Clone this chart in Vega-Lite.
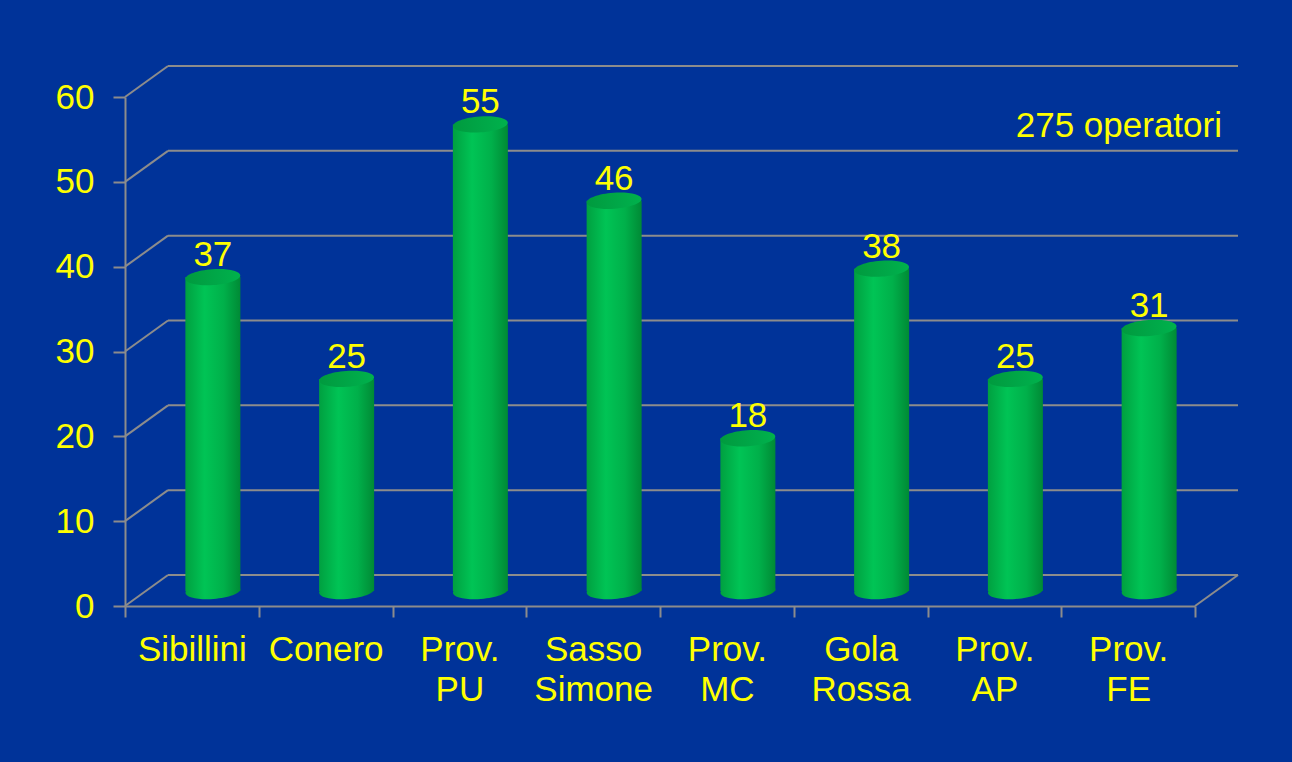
{
  "$schema": "https://vega.github.io/schema/vega-lite/v6.json",
  "autosize": "none",
  "width": 1070,
  "height": 509,
  "padding": {"left": 125, "top": 97, "right": 97, "bottom": 156},
  "background": "#003399",
  "config": {
    "view": {"stroke": null},
    "font": "Liberation Sans",
    "axis": {
      "labelFont": "Liberation Sans",
      "labelFontSize": 35,
      "labelColor": "#ffff00",
      "domainColor": "#8c8c8c",
      "domainWidth": 2,
      "tickColor": "#8c8c8c",
      "tickWidth": 2,
      "grid": false
    }
  },
  "datasets": {
    "parks": [
      {"cat": "Sibillini", "v": 37},
      {"cat": "Conero", "v": 25},
      {"cat": "Prov. PU", "v": 55},
      {"cat": "Sasso Simone", "v": 46},
      {"cat": "Prov. MC", "v": 18},
      {"cat": "Gola Rossa", "v": 38},
      {"cat": "Prov. AP", "v": 25},
      {"cat": "Prov. FE", "v": 31}
    ],
    "grid": [{"g": 0}, {"g": 10}, {"g": 20}, {"g": 30}, {"g": 40}, {"g": 50}, {"g": 60}],
    "note": [{"t": "275 operatori"}]
  },
  "layer": [
    {
      "data": {"name": "grid"},
      "mark": {"type": "rule", "color": "#8c8c8c", "strokeWidth": 2, "xOffset": 43, "x2Offset": 109.875, "yOffset": -31, "y2Offset": -31},
      "encoding": {
        "x": {"datum": "Sibillini", "bandPosition": 0, "type": "nominal",
              "scale": {"domain": ["Sibillini", "Conero", "Prov. PU", "Sasso Simone", "Prov. MC", "Gola Rossa", "Prov. AP", "Prov. FE"], "paddingInner": 0, "paddingOuter": 0},
              "title": null,
              "axis": {"title": null, "labelExpr": "split(datum.label, ' ')", "labelAngle": 0, "labelAlign": "center", "labelLineHeight": 40, "tickBand": "extent", "tickSize": 11, "labelPadding": 15}},
        "x2": {"datum": "Prov. FE"},
        "y": {"field": "g", "type": "quantitative", "scale": {"domain": [0, 60], "nice": false}, "title": null,
              "axis": {"title": null, "values": [0, 10, 20, 30, 40, 50, 60], "tickSize": 12, "labelPadding": 19}},
        "y2": {"field": "g"}
      }
    },
    {
      "data": {"name": "grid"},
      "mark": {"type": "rule", "color": "#8c8c8c", "strokeWidth": 2, "x2Offset": -23.875, "y2Offset": -31},
      "encoding": {
        "x": {"datum": "Sibillini", "bandPosition": 0, "type": "nominal", "title": null},
        "x2": {"datum": "Sibillini"},
        "y": {"field": "g", "type": "quantitative", "title": null},
        "y2": {"field": "g"}
      }
    },
    {
      "data": {"name": "grid"},
      "transform": [{"filter": "datum.g == 0"}],
      "mark": {"type": "rule", "color": "#8c8c8c", "strokeWidth": 2, "x2Offset": 109.875, "y2Offset": -31},
      "encoding": {
        "x": {"datum": "Prov. FE", "bandPosition": 1, "type": "nominal", "title": null},
        "x2": {"datum": "Prov. FE"},
        "y": {"field": "g", "type": "quantitative", "title": null},
        "y2": {"field": "g"}
      }
    },
    {
      "data": {"name": "parks"},
      "mark": {"type": "point", "filled": true, "strokeWidth": 0, "opacity": 1, "size": 3025, "angle": -4,
               "shape": "M-1,0A1,0.29,0,1,0,1,0A1,0.29,0,1,0,-1,0Z", "xOffset": 21, "yOffset": -15,
               "color": {"gradient": "linear", "x1": 0, "x2": 1, "y1": 0, "y2": 0,
                         "stops": [{"offset": 0, "color": "#00a040"}, {"offset": 0.35, "color": "#00c455"}, {"offset": 0.7, "color": "#00b04a"}, {"offset": 1, "color": "#008a35"}]}},
      "encoding": {
        "x": {"field": "cat", "type": "nominal", "sort": null, "title": null},
        "y": {"datum": 0, "type": "quantitative", "title": null}
      }
    },
    {
      "data": {"name": "parks"},
      "mark": {"type": "bar", "width": 55, "xOffset": 21, "yOffset": -15, "y2Offset": -15,
               "color": {"gradient": "linear", "x1": 0, "x2": 1, "y1": 0, "y2": 0,
                         "stops": [{"offset": 0, "color": "#00a040"}, {"offset": 0.35, "color": "#00c455"}, {"offset": 0.7, "color": "#00b04a"}, {"offset": 1, "color": "#008a35"}]}},
      "encoding": {
        "x": {"field": "cat", "type": "nominal", "sort": null, "title": null},
        "y": {"field": "v", "type": "quantitative", "title": null}
      }
    },
    {
      "data": {"name": "parks"},
      "mark": {"type": "point", "filled": true, "strokeWidth": 0, "opacity": 1, "size": 3025, "angle": -4,
               "shape": "M-1,0A1,0.29,0,1,0,1,0A1,0.29,0,1,0,-1,0Z", "xOffset": 21, "yOffset": -15,
               "color": {"gradient": "linear", "x1": 0, "x2": 1, "y1": 0, "y2": 0,
                         "stops": [{"offset": 0, "color": "#009a3e"}, {"offset": 0.6, "color": "#00a848"}, {"offset": 1, "color": "#00b24c"}]}},
      "encoding": {
        "x": {"field": "cat", "type": "nominal", "sort": null, "title": null},
        "y": {"field": "v", "type": "quantitative", "title": null}
      }
    },
    {
      "data": {"name": "parks"},
      "mark": {"type": "text", "font": "Liberation Sans", "fontSize": 35, "color": "#ffff00", "baseline": "alphabetic", "align": "center", "xOffset": 21, "yOffset": -26},
      "encoding": {
        "x": {"field": "cat", "type": "nominal", "sort": null, "title": null},
        "y": {"field": "v", "type": "quantitative", "title": null},
        "text": {"field": "v", "type": "quantitative"}
      }
    },
    {
      "data": {"name": "note"},
      "mark": {"type": "text", "font": "Liberation Sans", "fontSize": 35, "color": "#ffff00", "baseline": "alphabetic", "align": "right", "xOffset": 27},
      "encoding": {
        "x": {"datum": "Prov. FE", "bandPosition": 1, "type": "nominal", "title": null},
        "y": {"datum": 55.3, "type": "quantitative", "title": null},
        "text": {"field": "t", "type": "nominal"}
      }
    }
  ]
}
